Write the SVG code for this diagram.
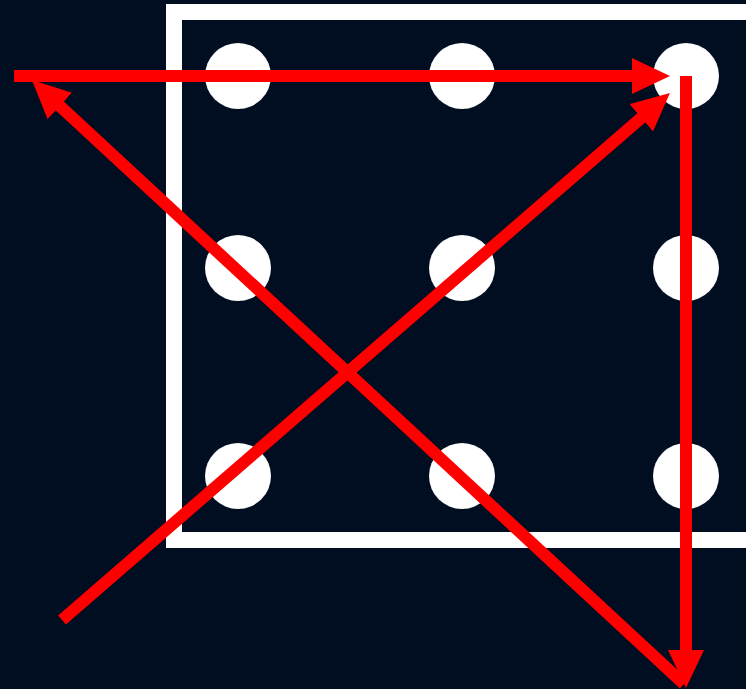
<svg xmlns="http://www.w3.org/2000/svg" width="746" height="689" viewBox="0 0 746 689">
<style>
.dot{fill:#ffffff}
.frame{fill:none;stroke:#ffffff;stroke-width:16}
.arrow{stroke:#ff0000;stroke-width:12;fill:none;stroke-linecap:butt}
</style>
<defs>
<marker id="head" markerUnits="userSpaceOnUse" markerWidth="38" markerHeight="36" refX="8" refY="18" orient="auto" viewBox="0 0 38 36">
<path d="M0,0 L38,18 L0,36 z" fill="#ff0000"/>
</marker>
</defs>
<rect width="746" height="689" fill="#010d20"/>
<g id="frame"><rect class="frame" x="174" y="12" width="600" height="528"/></g>
<g id="dots">
<circle id="d11" class="dot" cx="238" cy="76" r="33"/>
<circle id="d12" class="dot" cx="462" cy="76" r="33"/>
<circle id="d13" class="dot" cx="686" cy="76" r="33"/>
<circle id="d21" class="dot" cx="238" cy="268" r="33"/>
<circle id="d22" class="dot" cx="462" cy="268" r="33"/>
<circle id="d23" class="dot" cx="686" cy="268" r="33"/>
<circle id="d31" class="dot" cx="238" cy="476" r="33"/>
<circle id="d32" class="dot" cx="462" cy="476" r="33"/>
<circle id="d33" class="dot" cx="686" cy="476" r="33"/>
</g>
<g id="connectors">
<line class="arrow" x1="14" y1="76" x2="640" y2="76" marker-end="url(#head)"/>
<line class="arrow" x1="686" y1="76" x2="686" y2="658" marker-end="url(#head)"/>
<line class="arrow" x1="684" y1="684" x2="53.9" y2="100.5" marker-end="url(#head)"/>
<line class="arrow" x1="62" y1="620" x2="647.3" y2="112.6" marker-end="url(#head)"/>
</g>
</svg>
